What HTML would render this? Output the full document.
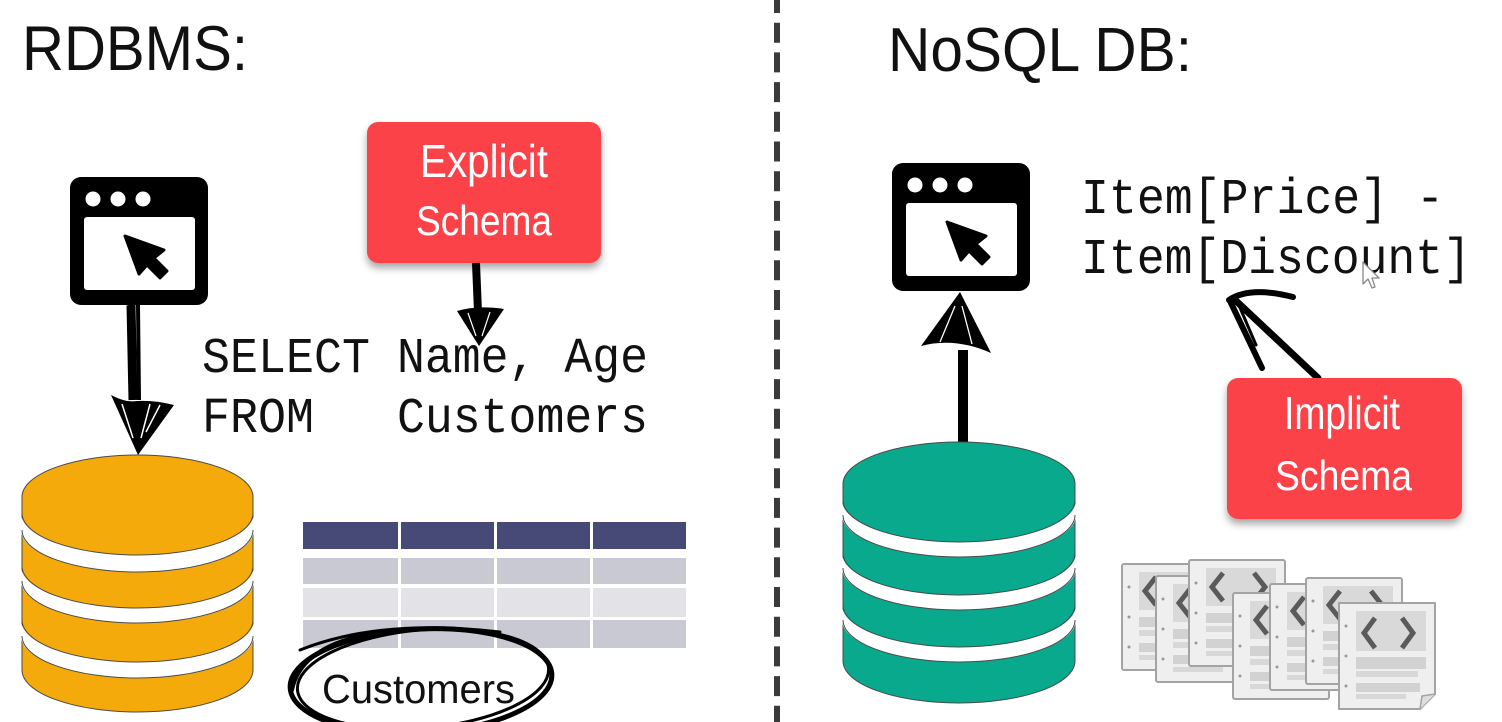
<!DOCTYPE html>
<html><head><meta charset="utf-8"><style>
html,body{margin:0;padding:0;background:#fff;}
svg{display:block;}
</style></head><body>
<svg width="1502" height="722" viewBox="0 0 1502 722" xmlns="http://www.w3.org/2000/svg">
<defs>
<filter id="sh" x="-10%" y="-10%" width="120%" height="135%">
<feDropShadow dx="0" dy="5" stdDeviation="4" flood-color="#000" flood-opacity="0.35"/>
</filter>
<g id="page">
<rect x="1" y="1" width="96" height="106" rx="2" fill="#efefef" stroke="#a3a3a3" stroke-width="2"/>
<circle cx="8" cy="24" r="1.5" fill="#999"/><circle cx="8" cy="54" r="1.5" fill="#999"/><circle cx="8" cy="84" r="1.5" fill="#999"/>
<rect x="18" y="9" width="70" height="38" fill="#d9d9d9"/>
<path d="M35,14 L24,28 L35,42" fill="none" stroke="#5a5a5a" stroke-width="5"/>
<path d="M66,14 L77,28 L66,42" fill="none" stroke="#5a5a5a" stroke-width="5"/>
<rect x="18" y="54" width="70" height="10" fill="#d2d2d2"/>
<rect x="18" y="67" width="60" height="6" fill="#d8d8d8"/>
<rect x="18" y="80" width="70" height="9" fill="#d2d2d2"/>
<rect x="18" y="92" width="50" height="5" fill="#d8d8d8"/>
</g>
<g id="browser">
<rect x="70" y="177" width="138" height="128" rx="11" fill="#000"/>
<rect x="84" y="217" width="111" height="73" rx="3" fill="#fff"/>
<circle cx="93" cy="199" r="7.5" fill="#fff"/>
<circle cx="118" cy="199" r="7.5" fill="#fff"/>
<circle cx="143" cy="199" r="7.5" fill="#fff"/>
<path d="M125,236 L164,250 L154,258 L167,271 L160,278 L147,265 L139,274 Z" fill="#000" stroke="#000" stroke-width="3" stroke-linejoin="round"/>
</g>
</defs>

<!-- divider -->
<line x1="777" y1="-7" x2="777" y2="722" stroke="#3a3a3a" stroke-width="6" stroke-dasharray="20 9.7"/>

<!-- titles -->
<text x="22" y="70" font-family="Liberation Sans, sans-serif" font-size="63" fill="#111" textLength="226" lengthAdjust="spacingAndGlyphs">RDBMS:</text>
<text x="888" y="71" font-family="Liberation Sans, sans-serif" font-size="62" fill="#111" textLength="304" lengthAdjust="spacingAndGlyphs">NoSQL DB:</text>

<!-- LEFT browser -->
<use href="#browser"/>

<!-- left arrow down -->
<path d="M131,305 L133,400" stroke="#000" stroke-width="9" fill="none"/>
<path d="M138,305 L139,400" stroke="#000" stroke-width="4" fill="none"/>
<path d="M111,395 Q126,403 137,401 Q155,400 174,405 L138,455 Z" fill="#000"/>
<path d="M122,404 L133,438 M150,404 L141,438 M160,405 L146,432" stroke="#fff" stroke-width="1.5"/>

<!-- Explicit Schema box -->
<rect x="367" y="122" width="234" height="141" rx="11" fill="#fc434a" filter="url(#sh)"/>
<text x="420" y="177" font-family="Liberation Sans Narrow, Liberation Sans, sans-serif" font-size="46" fill="#fff" textLength="128" lengthAdjust="spacingAndGlyphs">Explicit</text>
<text x="416" y="235" font-family="Liberation Sans Narrow, Liberation Sans, sans-serif" font-size="42" fill="#fff" textLength="136" lengthAdjust="spacingAndGlyphs">Schema</text>

<!-- explicit arrow -->
<path d="M476,263 L478,312" stroke="#000" stroke-width="8" fill="none"/>
<path d="M457,311 Q478,305 504,309 L479,346 Z" fill="#000"/>
<path d="M468,313 L476,336 M490,312 L482,336" stroke="#fff" stroke-width="1.2"/>

<!-- SQL text -->
<g font-family="Liberation Mono, monospace" font-size="50" fill="#111">
<text x="202" y="372" textLength="168" lengthAdjust="spacingAndGlyphs">SELECT</text>
<text x="397" y="372" textLength="251" lengthAdjust="spacingAndGlyphs">Name, Age</text>
<text x="202" y="432" textLength="112" lengthAdjust="spacingAndGlyphs">FROM</text>
<text x="397" y="432" textLength="251" lengthAdjust="spacingAndGlyphs">Customers</text>
</g>

<!-- yellow DB -->
<g stroke="#4a4a4a" stroke-width="1">
<path d="M22,497 A115.5,42 0 0 1 253,497 L253,670 A115.5,42 0 0 1 22,670 Z" fill="#f5aa0b"/>
</g>
<g fill="#fff">
<path d="M21,513 A116.5,42 0 0 0 254,513 L254,530 A116.5,42 0 0 1 21,530 Z"/>
<path d="M21,566 A116.5,42 0 0 0 254,566 L254,581 A116.5,42 0 0 1 21,581 Z"/>
<path d="M21,620 A116.5,42 0 0 0 254,620 L254,636 A116.5,42 0 0 1 21,636 Z"/>
</g>
<g fill="none" stroke="#4a4a4a" stroke-width="1">
<path d="M22,513 A115.5,42 0 0 0 253,513"/>
<path d="M22,530 A115.5,42 0 0 0 253,530"/>
<path d="M22,566 A115.5,42 0 0 0 253,566"/>
<path d="M22,581 A115.5,42 0 0 0 253,581"/>
<path d="M22,620 A115.5,42 0 0 0 253,620"/>
<path d="M22,636 A115.5,42 0 0 0 253,636"/>
</g>

<!-- table -->
<g>
<rect x="303" y="522" width="383" height="27" fill="#474a77"/>
<rect x="303" y="558" width="383" height="26" fill="#c8c9d2"/>
<rect x="303" y="588" width="383" height="29" fill="#e3e3e7"/>
<rect x="303" y="620" width="383" height="28" fill="#c8c9d2"/>
<rect x="398" y="520" width="3" height="130" fill="#fff"/>
<rect x="494" y="520" width="3" height="130" fill="#fff"/>
<rect x="590" y="520" width="3" height="130" fill="#fff"/>
</g>

<!-- Customers scribble -->
<g fill="none" stroke="#000" stroke-linecap="round">
<ellipse cx="421" cy="681" rx="131" ry="52" stroke-width="5" transform="rotate(-3 421 681)"/>
<ellipse cx="423" cy="679" rx="126" ry="49" stroke-width="3" transform="rotate(-5 423 679)"/>
<path d="M300,650 Q380,618 500,632" stroke-width="3"/>
<path d="M292,690 Q300,650 360,636" stroke-width="4"/>
</g>
<text x="322" y="703" font-family="Liberation Sans, sans-serif" font-size="41" fill="#111" textLength="193" lengthAdjust="spacingAndGlyphs">Customers</text>

<!-- RIGHT browser -->
<use href="#browser" transform="translate(822,-14)"/>

<!-- right up arrow -->
<path d="M963,350 L963,442" stroke="#000" stroke-width="10" fill="none"/>
<path d="M921,346 Q955,337 991,353 L960,292 Z" fill="#000"/>
<path d="M940,342 L955,306 M972,344 L962,306" stroke="#fff" stroke-width="1.3"/>

<!-- Item text -->
<g font-family="Liberation Mono, monospace" font-size="50" fill="#111">
<text x="1081" y="213" textLength="363" lengthAdjust="spacingAndGlyphs">Item[Price] -</text>
<text x="1081" y="273" textLength="390" lengthAdjust="spacingAndGlyphs">Item[Discount]</text>
</g>
<!-- small mouse cursor -->
<path d="M1363,262 L1363,284 L1368,279 L1372,288 L1375,287 L1372,278 L1379,278 Z" fill="#fff" stroke="#888" stroke-width="1.3" stroke-linejoin="round"/>

<!-- implicit arrow -->
<g fill="none" stroke="#000" stroke-linecap="round">
<path d="M1318,378 L1234,299" stroke-width="7"/>
<path d="M1229,300 Q1250,286 1293,297" stroke-width="6"/>
<path d="M1230,301 L1262,368" stroke-width="6"/>
<path d="M1238,303 L1256,345" stroke-width="3"/>
</g>

<!-- Implicit Schema box -->
<rect x="1227" y="378" width="235" height="141" rx="11" fill="#fc434a" filter="url(#sh)"/>
<text x="1284" y="429" font-family="Liberation Sans Narrow, Liberation Sans, sans-serif" font-size="46" fill="#fff" textLength="116" lengthAdjust="spacingAndGlyphs">Implicit</text>
<text x="1275" y="490" font-family="Liberation Sans Narrow, Liberation Sans, sans-serif" font-size="42" fill="#fff" textLength="137" lengthAdjust="spacingAndGlyphs">Schema</text>

<!-- green DB -->
<g stroke="#4a4a4a" stroke-width="1">
<path d="M843,484 A116,42 0 0 1 1075,484 L1075,661 A116,42 0 0 1 843,661 Z" fill="#08a98d"/>
</g>
<g fill="#fff">
<path d="M842,500 A117,42 0 0 0 1076,500 L1076,515 A117,42 0 0 1 842,515 Z"/>
<path d="M842,553 A117,42 0 0 0 1076,553 L1076,568 A117,42 0 0 1 842,568 Z"/>
<path d="M842,605 A117,42 0 0 0 1076,605 L1076,620 A117,42 0 0 1 842,620 Z"/>
</g>
<g fill="none" stroke="#4a4a4a" stroke-width="1">
<path d="M843,500 A116,42 0 0 0 1075,500"/>
<path d="M843,515 A116,42 0 0 0 1075,515"/>
<path d="M843,553 A116,42 0 0 0 1075,553"/>
<path d="M843,568 A116,42 0 0 0 1075,568"/>
<path d="M843,605 A116,42 0 0 0 1075,605"/>
<path d="M843,620 A116,42 0 0 0 1075,620"/>
</g>

<!-- documents -->
<use href="#page" transform="translate(1121,563)"/>
<use href="#page" transform="translate(1155,575)"/>
<use href="#page" transform="translate(1188,559)"/>
<use href="#page" transform="translate(1232,592)"/>
<use href="#page" transform="translate(1269,583)"/>
<use href="#page" transform="translate(1305,577)"/>
<g transform="translate(1338,602)">
<path d="M1,1 L97,1 L97,92 L82,107 L1,107 Z" fill="#efefef" stroke="#a3a3a3" stroke-width="2" stroke-linejoin="round"/>
<path d="M97,92 L84,94 L82,107" fill="#dedede" stroke="#a3a3a3" stroke-width="1.5"/>
<circle cx="8" cy="24" r="1.5" fill="#999"/><circle cx="8" cy="54" r="1.5" fill="#999"/><circle cx="8" cy="84" r="1.5" fill="#999"/>
<rect x="18" y="9" width="70" height="40" fill="#d9d9d9"/>
<path d="M37,16 L26,31 L37,46" fill="none" stroke="#5a5a5a" stroke-width="5"/>
<path d="M64,16 L75,31 L64,46" fill="none" stroke="#5a5a5a" stroke-width="5"/>
<rect x="18" y="55" width="70" height="12" fill="#d2d2d2"/>
<rect x="18" y="69" width="62" height="6" fill="#d8d8d8"/>
<rect x="18" y="81" width="64" height="9" fill="#d2d2d2"/>
<rect x="18" y="92" width="50" height="5" fill="#d8d8d8"/>
</g>
</svg>
</body></html>
